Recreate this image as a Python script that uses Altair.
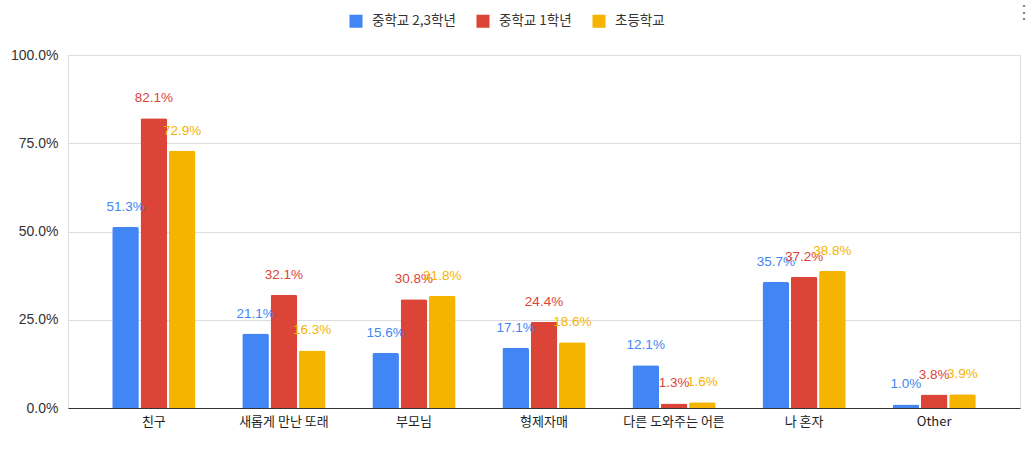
import altair as alt
import pandas as pd

categories = ["친구", "새롭게 만난 또래", "부모님", "형제자매", "다른 도와주는 어른", "나 혼자", "Other"]
series = ["중학교 2,3학년", "중학교 1학년", "초등학교"]
colors = ["#4285F4", "#DB4437", "#F4B400"]
v_mid23 = [51.3, 21.1, 15.6, 17.1, 12.1, 35.7, 1.0]
v_mid1 = [82.1, 32.1, 30.8, 24.4, 1.3, 37.2, 3.8]
v_elem = [72.9, 16.3, 31.8, 18.6, 1.6, 38.8, 3.9]

rows = []
for s, vals in zip(series, [v_mid23, v_mid1, v_elem]):
    for c, v in zip(categories, vals):
        rows.append({"cat": c, "series": s, "value": v / 100.0, "label": f"{v:.1f}%"})
df = pd.DataFrame(rows)

FONT = "Noto Sans CJK KR"
NUMFONT = "Liberation Sans"

x = alt.X("cat:N", sort=categories, title=None,
          scale=alt.Scale(paddingInner=0.36, paddingOuter=0.34),
          axis=alt.Axis(labelAngle=0, labelFontSize=13, labelColor="#222", labelFont=FONT,
                        domain=True, domainColor="#333", ticks=False, labelPadding=7))
xoff = alt.XOffset("series:N", sort=series, scale=alt.Scale(paddingInner=0.06))
color = alt.Color("series:N", sort=series, scale=alt.Scale(domain=series, range=colors),
                  legend=alt.Legend(title=None, orient="none", direction="horizontal",
                                    legendX=281, legendY=-41, symbolType="square",
                                    symbolSize=170, symbolStrokeWidth=0,
                                    labelFontSize=13.5, labelFont=FONT, labelColor="#333",
                                    columnPadding=20, labelOffset=9))

bars = alt.Chart(df).mark_bar(cornerRadiusTopLeft=2, cornerRadiusTopRight=2).encode(
    x=x, xOffset=xoff,
    y=alt.Y("value:Q", title=None, scale=alt.Scale(domain=[0, 1]),
            axis=alt.Axis(format=".1%", values=[0, 0.25, 0.5, 0.75, 1.0], labelFontSize=14,
                          labelColor="#333", labelFont=NUMFONT, domain=False, ticks=False,
                          gridColor="#dddddd", labelPadding=10)),
    color=color,
)

texts = alt.Chart(df).mark_text(baseline="bottom", dy=-13, fontSize=13.5, font=NUMFONT).encode(
    x=x, xOffset=xoff,
    y=alt.Y("value:Q"),
    text="label:N",
    color=alt.Color("series:N", sort=series, scale=alt.Scale(domain=series, range=colors), legend=None),
)

menu = alt.Chart(pd.DataFrame({"t": ["⋮"]})).mark_text(fontSize=18, color="#777").encode(
    x=alt.value(956), y=alt.value(-42), text="t:N")

chart = alt.layer(bars, texts, menu).properties(
    width=952, height=353,
    autosize=alt.AutoSizeParams(type="none"),
    padding={"left": 68, "top": 55, "right": 12, "bottom": 41},
).configure_view(stroke=None).configure(background="white")

chart.save("out.html", embed_options={"renderer": "svg", "actions": False})
